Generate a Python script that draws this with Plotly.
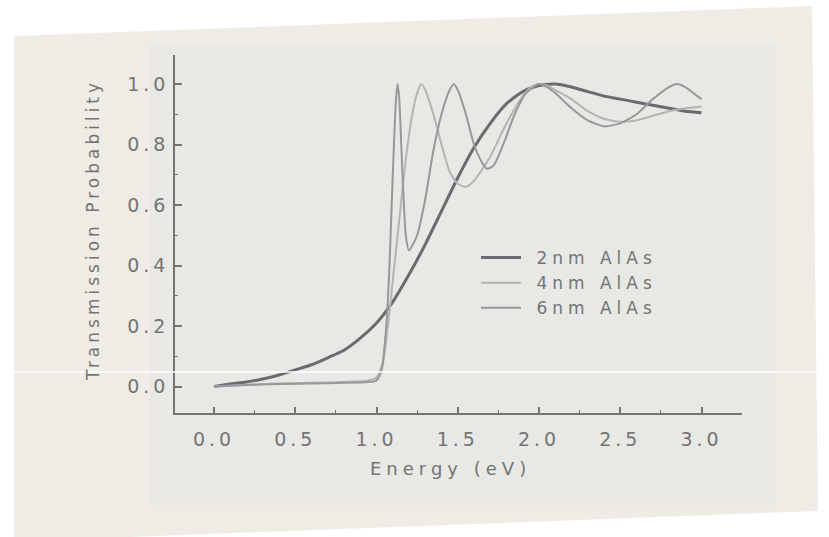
import plotly.graph_objects as go

W, H = 829, 537

# Transmission curves through a single AlAs barrier (GaAs/AlAs/GaAs)
energy_2nm = [0.0, 0.1, 0.2, 0.3, 0.4, 0.5, 0.6, 0.7, 0.8, 0.9, 1.0, 1.1, 1.2, 1.3, 1.4,
              1.5, 1.6, 1.7, 1.8, 1.9, 2.0, 2.1, 2.2, 2.3, 2.4, 2.5, 2.6, 2.7, 2.8, 2.9, 3.0]
trans_2nm = [0.0, 0.008, 0.015, 0.025, 0.038, 0.055, 0.072, 0.095, 0.12, 0.16, 0.21, 0.28,
             0.37, 0.47, 0.58, 0.69, 0.79, 0.87, 0.935, 0.975, 0.995, 1.0, 0.99, 0.975, 0.96,
             0.95, 0.94, 0.93, 0.92, 0.91, 0.905]

energy_4nm = [0.0, 0.2, 0.4, 0.6, 0.8, 0.95, 1.0, 1.04, 1.07, 1.10, 1.14, 1.18, 1.22, 1.25,
              1.275, 1.30, 1.35, 1.40, 1.45, 1.50, 1.55, 1.60, 1.70, 1.80, 1.90, 1.95, 2.0,
              2.05, 2.1, 2.2, 2.3, 2.4, 2.5, 2.6, 2.7, 2.8, 2.9, 3.0]
trans_4nm = [0.0, 0.006, 0.01, 0.012, 0.015, 0.02, 0.03, 0.08, 0.2, 0.35, 0.55, 0.75, 0.9,
             0.97, 1.0, 0.98, 0.9, 0.8, 0.71, 0.67, 0.66, 0.68, 0.76, 0.87, 0.96, 0.99, 1.0,
             0.995, 0.98, 0.95, 0.91, 0.885, 0.875, 0.88, 0.895, 0.91, 0.92, 0.925]

energy_6nm = [0.0, 0.2, 0.4, 0.6, 0.8, 0.95, 1.0, 1.03, 1.06, 1.08, 1.10, 1.12, 1.13, 1.14,
              1.16, 1.18, 1.20, 1.25, 1.30, 1.35, 1.40, 1.45, 1.475, 1.50, 1.55, 1.60, 1.65,
              1.68, 1.72, 1.78, 1.85, 1.92, 2.0, 2.05, 2.1, 2.2, 2.3, 2.4, 2.5, 2.6, 2.7,
              2.8, 2.85, 2.9, 2.95, 3.0]
trans_6nm = [0.0, 0.005, 0.008, 0.01, 0.012, 0.015, 0.02, 0.05, 0.2, 0.4, 0.7, 0.95, 1.0,
             0.95, 0.7, 0.5, 0.45, 0.5, 0.62, 0.78, 0.9, 0.98, 1.0, 0.98, 0.9, 0.8, 0.74,
             0.72, 0.73, 0.8, 0.9, 0.97, 1.0, 0.99, 0.97, 0.92, 0.88, 0.86, 0.87, 0.9, 0.95,
             0.99, 1.0, 0.99, 0.97, 0.95]

x_ticks = [0.0, 0.5, 1.0, 1.5, 2.0, 2.5, 3.0]
y_ticks = [0.0, 0.2, 0.4, 0.6, 0.8, 1.0]
series_names = ["2nm AlAs", "4nm AlAs", "6nm AlAs"]

TEXT = "#747474"
AXIS = "#737373"
FONT = "DejaVu Sans"


def spaced(text, sp):
    return f'<span style="letter-spacing:{sp}px">{text}</span>'


def px(x):
    return x / W


def py(y):
    return 1 - y / H


def legend_label(name):
    return spaced("\u00a0" + name, 5)


fig = go.Figure()

fig.add_trace(go.Scatter(x=energy_2nm, y=trans_2nm, mode="lines", name=legend_label(series_names[0]),
                         line=dict(color="#6a6a70", width=3, shape="spline", smoothing=0.6)))
fig.add_trace(go.Scatter(x=energy_4nm, y=trans_4nm, mode="lines", name=legend_label(series_names[1]),
                         line=dict(color="#b4b4b4", width=2, shape="spline", smoothing=0.6)))
fig.add_trace(go.Scatter(x=energy_6nm, y=trans_6nm, mode="lines", name=legend_label(series_names[2]),
                         line=dict(color="#98989c", width=2, shape="spline", smoothing=0.6)))

# printed page and its slightly darker print area
page = "M {} {} L {} {} L {} {} L {} {} L {} {} Z".format(
    px(14), py(36), px(812), py(6), px(818), py(511), px(130), py(537), px(14), py(537))
shapes = [
    dict(type="path", xref="paper", yref="paper", path=page,
         fillcolor="#eeece5", line=dict(width=0), layer="below"),
    dict(type="rect", xref="paper", yref="paper", x0=px(150), x1=px(776), y0=py(505), y1=py(44),
         fillcolor="#e8e8e4", line=dict(width=0), layer="below"),
    dict(type="line", xref="paper", yref="paper", x0=0, x1=px(829), y0=py(372), y1=py(372),
         line=dict(color="#ffffff", width=1.5), layer="above"),
]

annotations = [
    dict(text=spaced("Energy (eV)", 5), xref="paper", yref="paper", x=px(451), y=py(468),
         showarrow=False, font=dict(family=FONT, size=18, color=TEXT), xanchor="center", yanchor="middle"),
    dict(text=spaced("Transmission Probability", 4), xref="paper", yref="paper", x=px(93), y=py(230),
         showarrow=False, textangle=-90, font=dict(family=FONT, size=17, color=TEXT),
         xanchor="center", yanchor="middle"),
]

fig.update_layout(
    width=W, height=H,
    margin=dict(l=0, r=0, t=0, b=0),
    paper_bgcolor="#ffffff",
    plot_bgcolor="rgba(0,0,0,0)",
    font=dict(family=FONT, color=TEXT),
    shapes=shapes,
    annotations=annotations,
    showlegend=True,
    legend=dict(x=px(476), y=py(240), xanchor="left", yanchor="top",
                bgcolor="rgba(0,0,0,0)", font=dict(family=FONT, size=17, color=TEXT),
                tracegroupgap=0, itemwidth=40),
    xaxis=dict(domain=[px(175), px(742)], range=[-0.24, 3.249], showgrid=False, zeroline=False,
               showline=True, linecolor=AXIS, linewidth=1.5,
               tickmode="array", tickvals=x_ticks, ticktext=[spaced(f"{v:.1f}", 4) for v in x_ticks],
               ticks="inside", ticklen=6, tickwidth=1.5, tickcolor=AXIS,
               tickfont=dict(family=FONT, size=19, color=TEXT), ticklabelstandoff=8,
               minor=dict(dtick=0.25, tick0=0, ticks="inside", ticklen=3, tickwidth=1.2, tickcolor=AXIS)),
    yaxis=dict(domain=[py(413), py(55)], range=[-0.0876, 1.0959], showgrid=False, zeroline=False,
               showline=True, linecolor=AXIS, linewidth=1.5,
               tickmode="array", tickvals=y_ticks, ticktext=[spaced(f"{v:.1f}", 4) for v in y_ticks],
               ticks="inside", ticklen=7, tickwidth=1.5, tickcolor=AXIS,
               tickfont=dict(family=FONT, size=19, color=TEXT), ticklabelstandoff=0,
               minor=dict(dtick=0.1, tick0=0, ticks="inside", ticklen=3, tickwidth=1.2, tickcolor=AXIS)),
)

fig.write_html("out.html")
